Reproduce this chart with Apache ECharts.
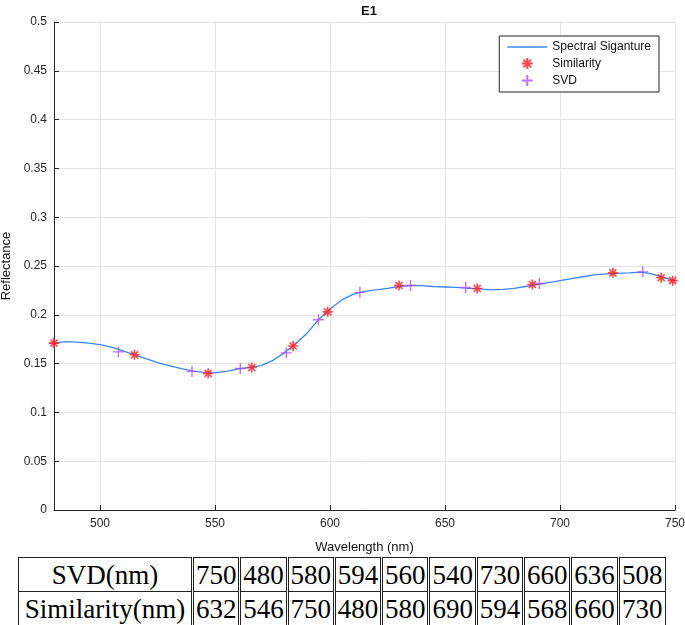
<!DOCTYPE html>
<html>
<head>
<meta charset="utf-8">
<script src="https://cdn.jsdelivr.net/npm/echarts@6/dist/echarts.min.js"></script>
<style>
  body { margin: 0; background: #fff; }
  #chart { position: absolute; left: 0; top: 0; width: 685px; height: 555px; }
  #tbl {
    position: absolute; left: 18px; top: 557px; width: 648px;
    table-layout: fixed; border-collapse: collapse;
    font-family: "Liberation Serif", "DejaVu Serif", serif; font-size: 27px; color: #000;
  }
  #tbl td { border: 1px solid #222; height: 33px; padding: 0; text-align: center; white-space: nowrap; line-height: 30px; }
  #tbl td + td { border-left: 3px double #222; }
  #tbl td.head { width: 172px; }
</style>
</head>
<body>
<div id="chart"></div>
<table id="tbl"></table>
<script>
  // 光谱曲线 (5nm 一个点)
  var wavelength = [480,485,490,495,500,505,510,515,520,525,530,535,540,545,550,555,560,565,570,575,
                    580,585,590,595,600,605,610,615,620,625,630,635,640,645,650,655,660,665,670,675,
                    680,685,690,695,700,705,710,715,720,725,730,735,740,745,750];
  var reflectance = [0.171,0.1725,0.172,0.171,0.1695,0.1668,0.163,0.159,0.155,0.151,0.148,0.145,0.1425,0.141,0.1405,0.142,0.1445,0.146,0.148,0.153,
                     0.161,0.170,0.181,0.195,0.206,0.215,0.221,0.224,0.2255,0.227,0.229,0.230,0.2298,0.229,0.2285,0.228,0.227,0.2265,0.2255,0.226,
                     0.227,0.229,0.231,0.233,0.235,0.237,0.239,0.241,0.242,0.2425,0.243,0.2438,0.242,0.238,0.235];
  // 标记点
  var simX = [480,515,547,566,584,599,630,664,688,723,744,749];
  var simY = [0.171,0.159,0.140,0.146,0.168,0.203,0.230,0.227,0.231,0.243,0.238,0.235];
  var svdX = [480,508,540,561,581,595,613,635,659,691,736];
  var svdY = [0.171,0.162,0.142,0.145,0.161,0.195,0.223,0.230,0.228,0.232,0.244];
  // 表格
  var svdTable = [750,480,580,594,560,540,730,660,636,508];
  var simTable = [632,546,750,480,580,690,594,568,660,730];

  var font = '"Liberation Sans", Arial, sans-serif';
  var lineColor = '#3b88f5';
  var starPath = 'path://M0,5L10,5M5,0L5,10M1.5,1.5L8.5,8.5M1.5,8.5L8.5,1.5';
  var plusPath = 'path://M0,5L10,5M5,0L5,10';
  var dashPath = 'path://M0,0L40,0L40,1.3L0,1.3Z';

  function zip(xs, ys) {
    var res = [];
    xs.forEach(function (x, i) { res.push([x, ys[i]]); });
    return res;
  }

  var chart = echarts.init(document.getElementById('chart'));
  var option = {
    animation: false,
    textStyle: { fontFamily: font },
    title: {
      text: 'E1', left: 364, top: 0, textAlign: 'center',
      textStyle: { fontSize: 13, fontWeight: 'bold', color: '#111', fontFamily: font }
    },
    grid: { left: 54, right: 10, top: 22, bottom: 45, outerBoundsMode: 'none' },
    legend: {
      orient: 'vertical', right: 26, top: 36,
      padding: [5, 8, 5, 8], itemGap: 4, itemWidth: 40, itemHeight: 11,
      backgroundColor: '#fff', borderColor: '#262626', borderWidth: 1, borderRadius: 0,
      textStyle: { fontSize: 12, color: '#111', fontFamily: font },
      data: [
        { name: 'Spectral Siganture', icon: dashPath, itemStyle: { color: lineColor, borderWidth: 0 } },
        'Similarity', 'SVD'
      ]
    },
    xAxis: {
      type: 'value', min: 480, max: 750,
      name: 'Wavelength (nm)', nameLocation: 'middle', nameGap: 31,
      nameTextStyle: { fontSize: 13, color: '#111' },
      axisLine: { lineStyle: { color: '#262626' } },
      axisTick: { inside: true, length: 5, lineStyle: { color: '#262626' } },
      axisLabel: {
        fontSize: 12, color: '#262626', margin: 8,
        formatter: function (v) { return v % 50 === 0 ? v : ''; }
      },
      splitLine: { show: true, lineStyle: { color: '#e3e3e3' } }
    },
    yAxis: {
      type: 'value', min: 0, max: 0.5, interval: 0.05,
      name: 'Reflectance', nameLocation: 'middle', nameGap: 31,
      nameTextStyle: { fontSize: 13, color: '#111' },
      axisLine: { show: true, lineStyle: { color: '#262626' } },
      axisTick: { show: true, inside: true, length: 5, lineStyle: { color: '#262626' } },
      axisLabel: { fontSize: 12, color: '#262626', margin: 7 },
      splitLine: { show: true, lineStyle: { color: '#e3e3e3' } }
    },
    series: [{
      name: 'Spectral Siganture', type: 'line', symbol: 'none',
      lineStyle: { color: lineColor, width: 1.3 },
      itemStyle: { color: lineColor },
      data: zip(wavelength, reflectance), z: 2
    }, {
      name: 'Similarity', type: 'scatter', symbol: starPath, symbolSize: 10,
      itemStyle: { color: 'transparent', borderColor: '#ff1a1a', borderWidth: 1.6 },
      data: zip(simX, simY), z: 4
    }, {
      name: 'SVD', type: 'scatter', symbol: plusPath, symbolSize: 11,
      itemStyle: { color: 'transparent', borderColor: '#b24dff', borderWidth: 1.4 },
      data: zip(svdX, svdY), z: 3
    }]
  };
  chart.setOption(option);

  // 下方的表格
  var tbl = document.getElementById('tbl');
  function addRow(label, vals) {
    var tr = document.createElement('tr');
    var th = document.createElement('td');
    th.className = 'head';
    th.textContent = label;
    tr.appendChild(th);
    vals.forEach(function (v) {
      var td = document.createElement('td');
      td.textContent = v;
      tr.appendChild(td);
    });
    tbl.appendChild(tr);
  }
  addRow('SVD(nm)', svdTable);
  addRow('Similarity(nm)', simTable);
</script>
</body>
</html>
